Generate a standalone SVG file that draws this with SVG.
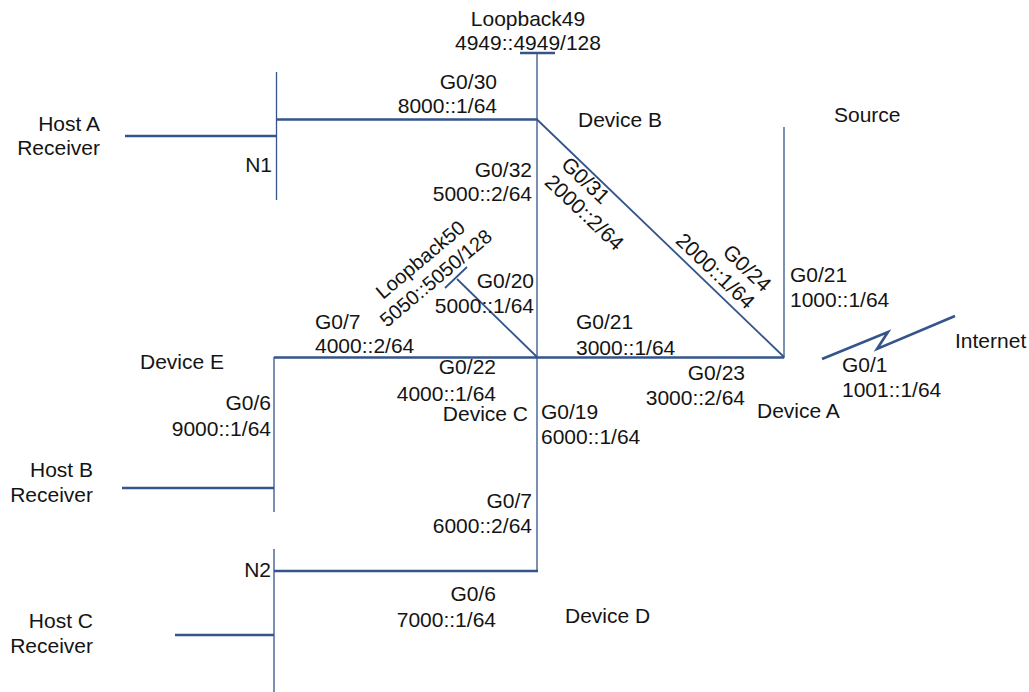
<svg xmlns="http://www.w3.org/2000/svg" width="1029" height="692" viewBox="0 0 1029 692">
<style>
text{font-family:"Liberation Sans",Arial,sans-serif;font-size:21px;fill:#141414}
.e{text-anchor:end}
.m{text-anchor:middle}
.k{stroke:#34558b;stroke-width:2.6;fill:none;stroke-linecap:butt}
.t{stroke:#34558b;stroke-width:1.3;fill:none}
.d{stroke:#34558b;stroke-width:1.8;fill:none}
</style>
<rect width="1029" height="692" fill="#fff"/>
<g id="connectors">
<line class="t" x1="276.5" y1="72" x2="276.5" y2="200"/>
<line class="k" x1="125" y1="136" x2="277" y2="136"/>
<line class="k" x1="276" y1="119.5" x2="538" y2="119.5"/>
<line class="t" x1="537" y1="53" x2="537" y2="572"/>
<line class="k" x1="520" y1="53" x2="555" y2="53"/>
<line class="d" x1="537" y1="119.5" x2="784" y2="357"/>
<line class="t" x1="784" y1="127" x2="784" y2="358"/>
<line class="k" x1="274" y1="357.5" x2="784" y2="357.5"/>
<line class="d" x1="537" y1="357" x2="457" y2="279"/>
<line class="d" x1="445" y1="288" x2="467" y2="267"/>
<line class="t" x1="274" y1="357" x2="274" y2="512"/>
<line class="k" x1="122" y1="488" x2="274" y2="488"/>
<line class="t" x1="274" y1="549" x2="274" y2="692"/>
<line class="k" x1="274" y1="571" x2="538" y2="571"/>
<line class="k" x1="175" y1="635" x2="274" y2="635"/>
<polyline class="k" points="822,359 888,332 877,349 955,316"/>
</g>
<g id="labels">
<text class="e" x="497" y="89">G0/30</text>
<text class="e" x="497" y="113">8000::1/64</text>
<text class="e" x="532" y="177">G0/32</text>
<text class="e" x="532" y="201">5000::2/64</text>
<text x="560" y="166" transform="rotate(43.5 560 166)">G0/31</text>
<text x="543.5" y="183.4" transform="rotate(43.5 543.5 183.4)">2000::2/64</text>
<text class="e" x="763" y="293" transform="rotate(43.5 763 293)">G0/24</text>
<text class="e" x="746.5" y="310.4" transform="rotate(43.5 746.5 310.4)">2000::1/64</text>
<text class="e" x="534" y="288">G0/20</text>
<text class="e" x="534" y="313">5000::1/64</text>
<text x="315" y="329">G0/7</text>
<text x="315" y="353">4000::2/64</text>
<text x="576" y="329">G0/21</text>
<text x="576" y="355">3000::1/64</text>
<text x="790" y="282">G0/21</text>
<text x="790" y="307">1000::1/64</text>
<text class="e" x="496" y="374">G0/22</text>
<text class="e" x="496" y="401">4000::1/64</text>
<text x="541" y="419">G0/19</text>
<text x="541" y="444">6000::1/64</text>
<text class="e" x="745" y="380">G0/23</text>
<text class="e" x="745" y="405">3000::2/64</text>
<text x="842" y="372">G0/1</text>
<text x="842" y="397">1001::1/64</text>
<text class="e" x="271" y="410">G0/6</text>
<text class="e" x="271" y="436">9000::1/64</text>
<text class="e" x="532" y="508">G0/7</text>
<text class="e" x="532" y="533">6000::2/64</text>
<text class="e" x="496" y="601">G0/6</text>
<text class="e" x="496" y="627">7000::1/64</text>
</g>
<g id="loopback49"><text class="m" x="528" y="26">Loopback49</text><text class="m" x="528" y="50">4949::4949/128</text></g>
<g id="loopback50"><text class="m" x="424.8" y="264.9" style="font-size:20px" transform="rotate(-40 424.8 264.9)">Loopback50</text><text class="m" x="440.2" y="283.3" style="font-size:20px" transform="rotate(-40 440.2 283.3)">5050::5050/128</text></g>
<g id="device-b"><text x="578" y="127">Device B</text></g>
<g id="source"><text x="834" y="122">Source</text></g>
<g id="host-a"><text class="e" x="100" y="131">Host A</text><text class="e" x="100" y="155">Receiver</text></g>
<g id="n1"><text class="e" x="272" y="172">N1</text></g>
<g id="internet"><text x="955" y="348">Internet</text></g>
<g id="device-e"><text x="140" y="369">Device E</text></g>
<g id="device-c"><text class="e" x="528" y="421">Device C</text></g>
<g id="device-a"><text x="757" y="418">Device A</text></g>
<g id="host-b"><text class="e" x="93" y="477">Host B</text><text class="e" x="93" y="502">Receiver</text></g>
<g id="n2"><text class="e" x="271" y="577">N2</text></g>
<g id="device-d"><text x="565" y="623">Device D</text></g>
<g id="host-c"><text class="e" x="93" y="628">Host C</text><text class="e" x="93" y="653">Receiver</text></g>
</svg>
